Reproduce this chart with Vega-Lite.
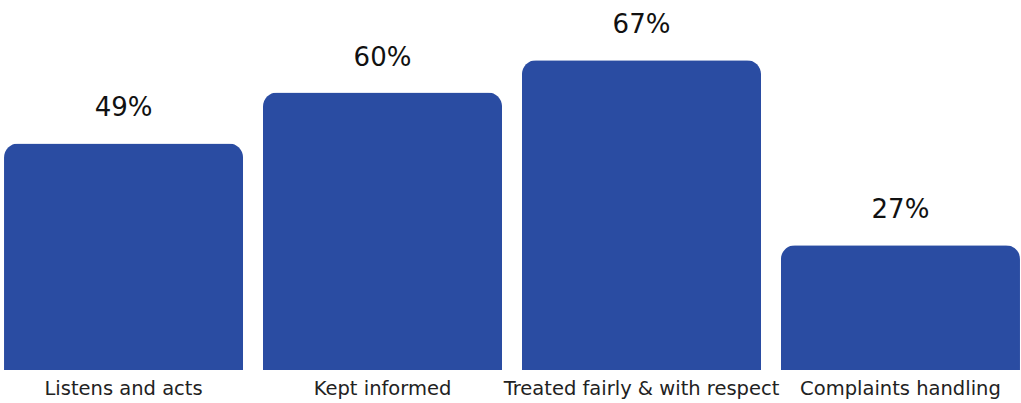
{
  "$schema": "https://vega.github.io/schema/vega-lite/v6.json",
  "width": 1024,
  "height": 370,
  "padding": {"left": 0, "right": 0, "top": 0, "bottom": 33},
  "autosize": {"type": "none"},
  "background": "white",
  "config": {"view": {"stroke": null}, "font": "DejaVu Sans"},
  "data": {
    "values": [
      {"category": "Listens and acts", "share": 0.49},
      {"category": "Kept informed", "share": 0.60},
      {"category": "Treated fairly & with respect", "share": 0.67},
      {"category": "Complaints handling", "share": 0.27}
    ]
  },
  "encoding": {
    "x": {
      "field": "category",
      "type": "nominal",
      "sort": null,
      "scale": {"paddingInner": 0.077, "paddingOuter": 0.0155},
      "axis": {
        "title": null,
        "labelAngle": 0,
        "labelFontSize": 19.5,
        "labelColor": "#222222",
        "labelPadding": 9,
        "ticks": false,
        "domain": false,
        "labelFont": "DejaVu Sans",
        "labelLimit": 300
      }
    },
    "y": {
      "field": "share",
      "type": "quantitative",
      "scale": {"domain": [0, 0.8]},
      "axis": null
    }
  },
  "layer": [
    {
      "mark": {"type": "bar", "color": "#2a4ca2", "cornerRadiusTopLeft": 14, "cornerRadiusTopRight": 14}
    },
    {
      "mark": {"type": "text", "baseline": "bottom", "dy": -22, "fontSize": 26, "color": "#111111", "font": "DejaVu Sans"},
      "encoding": {"text": {"field": "share", "type": "quantitative", "format": ".0%"}}
    }
  ]
}
